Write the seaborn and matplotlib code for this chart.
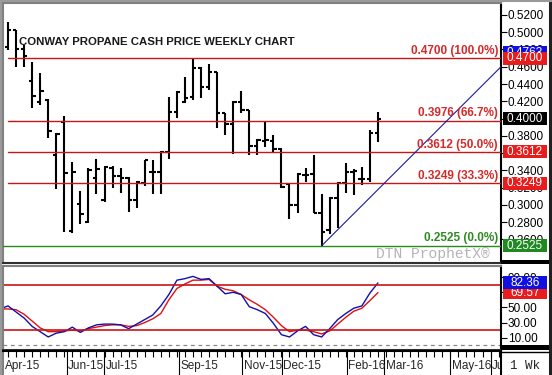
import numpy as np
import pandas as pd
import seaborn as sns
import matplotlib.pyplot as plt
import matplotlib.transforms as mtransforms
from matplotlib.patches import Rectangle
from matplotlib.lines import Line2D

# Weekly OHLC, Conway propane cash ($/gal), first bar is cut off by the left edge
opens = [0.490, 0.483, 0.503, 0.481, 0.444, 0.419, 0.422, 0.358, 0.396, 0.270,
         0.301, 0.280, 0.331, 0.306, 0.343, 0.333, 0.331, 0.306, 0.325, 0.338,
         0.338, 0.361, 0.408, 0.419, 0.425, 0.459, 0.437, 0.454, 0.406, 0.394,
         0.419, 0.410, 0.368, 0.374, 0.374, 0.365, 0.324, 0.300, 0.335, 0.336,
         0.290, 0.271, 0.308, 0.325, 0.338, 0.330, 0.330, 0.383]
highs = [0.500, 0.512, 0.503, 0.485, 0.466, 0.453, 0.423, 0.383, 0.403, 0.350,
         0.316, 0.343, 0.353, 0.345, 0.345, 0.343, 0.332, 0.328, 0.352, 0.352,
         0.362, 0.425, 0.432, 0.448, 0.470, 0.460, 0.463, 0.454, 0.406, 0.420,
         0.432, 0.410, 0.376, 0.396, 0.381, 0.366, 0.325, 0.337, 0.343, 0.358,
         0.3125, 0.309, 0.326, 0.348, 0.342, 0.344, 0.387, 0.4075]
lows = [0.470, 0.479, 0.460, 0.460, 0.412, 0.416, 0.377, 0.318, 0.268, 0.267,
        0.278, 0.279, 0.313, 0.303, 0.319, 0.314, 0.292, 0.296, 0.322, 0.313,
        0.313, 0.353, 0.401, 0.418, 0.422, 0.424, 0.433, 0.389, 0.381, 0.359,
        0.406, 0.358, 0.358, 0.367, 0.361, 0.319, 0.284, 0.290, 0.326, 0.290,
        0.2525, 0.266, 0.273, 0.314, 0.311, 0.323, 0.326, 0.373]
closes = [0.479, 0.503, 0.481, 0.473, 0.426, 0.432, 0.386, 0.382, 0.337, 0.338,
          0.289, 0.340, 0.342, 0.344, 0.333, 0.331, 0.306, 0.326, 0.352, 0.338,
          0.361, 0.408, 0.431, 0.424, 0.459, 0.437, 0.454, 0.406, 0.394, 0.419,
          0.410, 0.368, 0.375, 0.375, 0.365, 0.321, 0.300, 0.336, 0.335, 0.290,
          0.268, 0.308, 0.325, 0.338, 0.339, 0.330, 0.383, 0.400]

# Stochastics (%K blue, %D red)
stoch_k = [48, 52, 44, 36, 25, 18, 11, 16, 18, 24, 17, 23, 27, 28, 28, 27, 22, 28,
           34, 40, 52, 67, 86, 88, 91, 87, 88, 78, 68, 70, 67, 51, 47, 42, 29, 14,
           11, 19, 25, 14, 11, 22, 34, 42, 49, 52, 69, 82.36]
stoch_d = [48, 48, 47, 41, 32, 23, 18, 18, 19, 20, 19, 22, 24, 26, 27, 27, 25, 26,
           30, 35, 42, 60, 75, 81, 86, 86, 87, 78, 74, 72, 67, 60, 54, 47, 37, 26,
           18, 20, 20, 18, 15, 19, 28, 37, 45, 49, 59, 69.57]

# Fibonacci retracement of the Sep-15 high / Jan-16 low
fib_levels = [0.4700, 0.3976, 0.3612, 0.3249]
fib_pcts = ['100.0%', '66.7%', '50.0%', '33.3%']
fib_base = 0.2525
trend_end = 0.4600

# month separators on the date strip (in week index)
month_labels = ['Apr-15', 'Jun-15', 'Jul-15', 'Sep-15', 'Nov-15', 'Dec-15',
                'Feb-16', 'Mar-16', 'May-16', 'Jun-16']
month_pos = [0.44, 8.3, 12.95, 22.3, 30.1, 35.05, 43.1, 47.8, 56.0, 61.0]

sns.set_style('white')
plt.rcParams['font.family'] = ['Liberation Sans', 'DejaVu Sans']

W, H = 552, 375
fig = plt.figure(figsize=(W / 100, H / 100), dpi=100)
fig.patch.set_facecolor('white')


def box(x0, y0, x1, y1):
    # pixel box (top-left origin) -> figure rect
    return [x0 / W, 1 - y1 / H, (x1 - x0) / W, (y1 - y0) / H]


ax = fig.add_axes(box(2.5, 3, 501, 263))
ax_osc = fig.add_axes(box(2.5, 266, 501, 350), sharex=ax)
ax_dt = fig.add_axes(box(2.5, 351, 501, 375), sharex=ax)

x = np.arange(len(opens))
xmin, xmax = 0.315, 62.3

# ---- price panel ----
ax.vlines(x, lows, highs, color='black', lw=1.5)
ax.hlines(opens, x - 0.42, x, color='black', lw=1.5)
ax.hlines(closes, x, x + 0.42, color='black', lw=1.5)
ax.set_xlim(xmin, xmax)
ax.set_ylim(0.2325, 0.5339)

hi_i = int(np.argmax(highs))
lo_i = int(np.argmin(lows))
for lev in fib_levels:
    ax.plot([hi_i, xmax], [lev, lev], color='#c41818', lw=1.0, zorder=3)
ax.axhline(fib_base, color='#2a8a1a', lw=1.0, zorder=3)
ax.plot([lo_i, xmax], [fib_base, trend_end], color='#1a1aa0', lw=0.8, zorder=3)

bt = mtransforms.blended_transform_factory(ax.transAxes, ax.transData)
yoff = 0.0016
for lev, pct in zip(fib_levels, fib_pcts):
    ax.text(0.994, lev + yoff, '%.4f (%s)' % (lev, pct), transform=bt,
            ha='right', va='bottom', fontsize=8.5, fontweight='bold', color='#d42a2a', zorder=5)
ax.text(0.994, fib_base + yoff, '%.4f (0.0%%)' % fib_base, transform=bt,
        ha='right', va='bottom', fontsize=8.5, fontweight='bold', color='#2f8a22', zorder=5)

ax.text((19 - 2.5) / 498.5, (263 - 42) / 260, 'CONWAY PROPANE CASH PRICE WEEKLY CHART',
        transform=ax.transAxes, fontsize=8.2, fontweight='bold', color='#1a1a1a',
        va='center', ha='left')

ax.text((490 - 2.5) / 498.5, (263 - 254) / 260, 'DTN ProphetX\u00ae', transform=ax.transAxes,
        ha='right', va='center', fontsize=10.5, color='#b4b4b4',
        family=['Liberation Mono', 'DejaVu Sans Mono'])

ax.yaxis.tick_right()
ax.set_yticks(np.arange(0.26, 0.5201, 0.02))
ax.yaxis.set_major_formatter(plt.FormatStrFormatter('%.4f'))
ax.tick_params(axis='y', direction='out', length=4, width=0.8, labelsize=8.5, pad=1, colors='black')
ax.tick_params(axis='x', bottom=False, labelbottom=False)

# ---- stochastics panel ----
osc = pd.DataFrame({'week': x, 'k': stoch_k, 'd': stoch_d})
sns.lineplot(data=osc, x='week', y='d', color='#e01010', lw=1.0, ax=ax_osc)
sns.lineplot(data=osc, x='week', y='k', color='#1010b0', lw=1.0, ax=ax_osc)
ax_osc.axhline(80, color='#c81414', lw=1.2)
ax_osc.axhline(20, color='#c81414', lw=1.2)
ax_osc.axhline(0, color='#888888', lw=0.9, ls=(0, (3, 3)))
ax_osc.set_ylim(-6.2, 104.7)
ax_osc.set_xlabel('')
ax_osc.set_ylabel('')
ax_osc.yaxis.tick_right()
ax_osc.set_yticks([10, 30, 50, 70, 90])
ax_osc.yaxis.set_major_formatter(plt.FormatStrFormatter('%.2f'))
ax_osc.tick_params(axis='y', direction='out', length=4, width=0.8, labelsize=8.5, pad=1, colors='black')
ax_osc.tick_params(axis='x', bottom=False, labelbottom=False)


# ---- value boxes on the right scale ----
def value_box(a, val, txt, fc, tc='white', z=10):
    y0, y1 = a.get_ylim()
    hpx = a.get_position().height * H
    h = 13.0 / hpx * (y1 - y0)
    tr = mtransforms.blended_transform_factory(a.transAxes, a.transData)
    a.add_patch(Rectangle((1.004, val - h / 2), 0.0883, h, transform=tr, fc=fc, ec='none',
                          clip_on=False, zorder=z))
    a.text(1.048, val, txt, transform=tr, ha='center', va='center', color=tc, fontsize=8.5,
           clip_on=False, zorder=z + 1)


value_box(ax, 0.4765, '0.4763', '#1010e0', z=10)
value_box(ax, fib_levels[0], '%.4f' % fib_levels[0], '#e81c1c', z=12)
value_box(ax, closes[-1], '%.4f' % closes[-1], 'black', z=12)
value_box(ax, fib_levels[2], '%.4f' % fib_levels[2], '#e81c1c', z=12)
value_box(ax, fib_levels[3], '%.4f' % fib_levels[3], '#e81c1c', z=12)
value_box(ax, fib_base, '%.4f' % fib_base, '#1f8a1f', z=12)
value_box(ax_osc, stoch_d[-1], '%.2f' % stoch_d[-1], '#e81c1c', z=10)
value_box(ax_osc, stoch_k[-1], '%.2f' % stoch_k[-1], '#1010e0', z=12)

# ---- date strip ----
ax_dt.set_ylim(0, 1)
ax_dt.vlines(np.arange(0, 63), 0.75, 1.0, color='black', lw=0.8)
ax_dt.vlines(month_pos[1:], 0, 1, color='black', lw=0.8)
for p, lab in zip(month_pos, month_labels):
    ax_dt.text(p + 0.2, 0.37, lab, ha='left', va='center', fontsize=8.5, clip_on=True)
ax_dt.set_yticks([])
ax_dt.tick_params(axis='x', bottom=False, labelbottom=False)
ax_dt.text(1.048, 0.37, '1 Wk', transform=ax_dt.transAxes, ha='center', va='center', fontsize=9,
           family=['Liberation Mono', 'DejaVu Sans Mono'], clip_on=False)

for a in (ax, ax_osc, ax_dt):
    a.set_facecolor('white')
    for side in ('left', 'top'):
        a.spines[side].set_color('#808080')
        a.spines[side].set_linewidth(1.5)
    a.spines['right'].set_color('black')
    a.spines['right'].set_linewidth(1.5)
    a.spines['bottom'].set_color('#303030')
    a.spines['bottom'].set_linewidth(1.5)
ax_dt.spines['bottom'].set_visible(False)
ax_dt.spines['top'].set_color('black')

# frame decorations of the terminal window
fig.add_artist(Rectangle((501 / W, 1 - 264 / H), 48 / W, 4 / H, transform=fig.transFigure, fc='black', ec='none'))
fig.add_artist(Rectangle((501 / W, 1 - 350 / H), 48 / W, 5 / H, transform=fig.transFigure, fc='black', ec='none'))
fig.add_artist(Line2D([549.5 / W, 549.5 / W], [0, 1], transform=fig.transFigure, color='#202020', lw=2.2))
fig.add_artist(Line2D([0, 1], [1 - 1 / H, 1 - 1 / H], transform=fig.transFigure, color='#9a9a9a', lw=1.5))
fig.add_artist(Line2D([1 / W, 1 / W], [0, 1], transform=fig.transFigure, color='#9a9a9a', lw=1.5))
fig.add_artist(Line2D([501 / W, 549 / W], [1 - 351.5 / H, 1 - 351.5 / H], transform=fig.transFigure, color='black', lw=1))

fig.savefig('out.png', dpi=100)
